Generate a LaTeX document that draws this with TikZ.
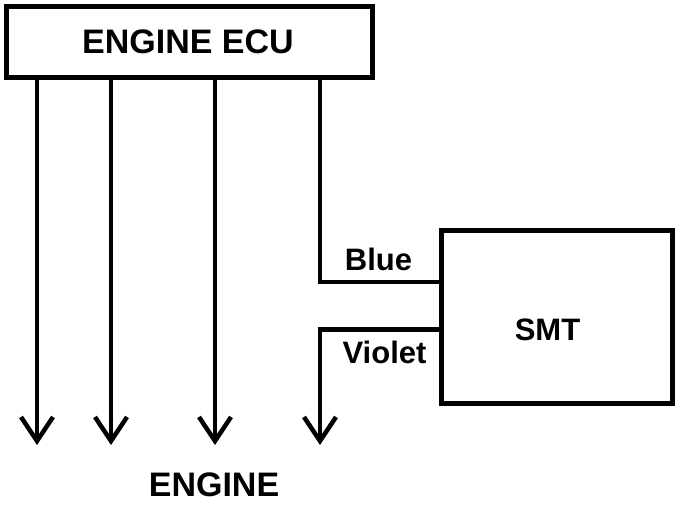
\documentclass[tikz,border=0pt]{standalone}
\usepackage{fontspec}
\setmainfont{Liberation Sans}
\usetikzlibrary{arrows.meta}
\tikzset{
  box/.style={draw, line width=5pt, inner sep=0pt},
  wire/.style={line width=4.5pt, line join=miter},
  arr/.style={wire, -{Straight Barb[length=24pt,width=32pt,line width=4.5pt]}},
  big/.style={font=\fontsize{34}{34}\selectfont\bfseries, anchor=base, inner sep=0pt, text depth=0pt},
  mid/.style={font=\fontsize{31}{31}\selectfont\bfseries, anchor=base, inner sep=0pt}
}
\begin{document}
\begin{tikzpicture}[x=1pt,y=-1pt]
\useasboundingbox (0,0) rectangle (677,504);
\node[box, minimum width=366pt, minimum height=71pt] (ecu) at (189.5,42) {};
\node[big] (ecut) at (188,53) {ENGINE ECU};
\node[box, minimum width=231.5pt, minimum height=173pt] (smt) at (557,317) {};
\node[mid] (smtt) at (547.5,340) {SMT};
\node[mid] (blue) at (378.5,270) {Blue};
\node[mid] (violet) at (384.5,363) {Violet};
\node[big] (engine) at (214,496) {ENGINE};
\coordinate (e1) at (37,445);
\coordinate (e2) at (111,445);
\coordinate (e3) at (215,445);
\coordinate (e4) at (320,445);
\coordinate (bl) at (320,282);
\coordinate (vl) at (320,329.5);
\draw[arr] (ecu.south -| e1) -- (e1);
\draw[arr] (ecu.south -| e2) -- (e2);
\draw[arr] (ecu.south -| e3) -- (e3);
\draw[wire] (ecu.south -| bl) -- (bl) -- (smt.west |- bl);
\draw[arr] (smt.west |- vl) -- (vl) -- (e4);
\end{tikzpicture}
\end{document}
